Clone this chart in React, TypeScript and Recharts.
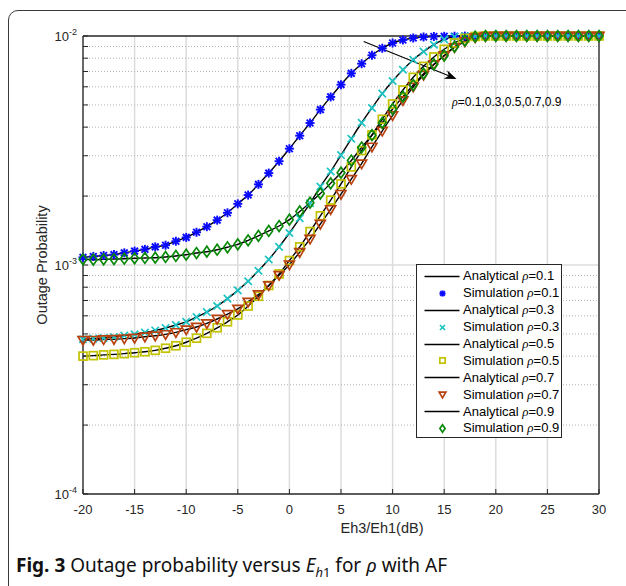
import React from 'react';
import {
  ComposedChart,
  Line,
  XAxis,
  YAxis,
  CartesianGrid,
  ReferenceLine,
  ReferenceDot,
  Legend
} from 'recharts';

// Eh3/Eh1 in dB, one simulation point per dB
const snrDb = [
  -20, -19, -18, -17, -16, -15, -14, -13, -12, -11,
  -10, -9, -8, -7, -6, -5, -4, -3, -2, -1,
  0, 1, 2, 3, 4, 5, 6, 7, 8, 9,
  10, 11, 12, 13, 14, 15, 16, 17, 18, 19,
  20, 21, 22, 23, 24, 25, 26, 27, 28, 29, 30
];

// outage probability, in units of 1e-3
const rho01 = [
  1.08, 1.09, 1.10, 1.11, 1.13, 1.15, 1.17, 1.20, 1.22, 1.27,
  1.32, 1.39, 1.47, 1.57, 1.69, 1.85, 2.02, 2.25, 2.52, 2.84,
  3.22, 3.67, 4.17, 4.77, 5.42, 6.13, 6.87, 7.57, 8.24, 8.84,
  9.32, 9.61, 9.80, 9.90, 9.95, 9.97, 9.98, 9.99, 9.99, 10.0,
  10.0, 10.0, 10.0, 10.0, 10.0, 10.0, 10.0, 10.0, 10.0, 10.0, 10.0
];
const rho03 = [
  0.474, 0.477, 0.480, 0.485, 0.492, 0.498, 0.507, 0.518, 0.531, 0.547,
  0.565, 0.593, 0.623, 0.662, 0.713, 0.775, 0.849, 0.944, 1.057, 1.20,
  1.38, 1.60, 1.86, 2.20, 2.56, 3.02, 3.56, 4.18, 4.85, 5.60,
  6.36, 7.12, 7.88, 8.55, 9.16, 9.67, 9.93, 9.98, 10.0, 10.0,
  10.0, 10.0, 10.0, 10.0, 10.0, 10.0, 10.0, 10.0, 10.0, 10.0, 10.0
];
const rho05 = [
  0.400, 0.402, 0.405, 0.407, 0.410, 0.414, 0.418, 0.424, 0.433, 0.444,
  0.460, 0.479, 0.503, 0.532, 0.565, 0.605, 0.662, 0.730, 0.814, 0.914,
  1.046, 1.20, 1.40, 1.64, 1.92, 2.26, 2.68, 3.16, 3.70, 4.33,
  5.05, 5.81, 6.60, 7.37, 8.10, 8.75, 9.32, 9.77, 9.95, 10.0,
  10.0, 10.0, 10.0, 10.0, 10.0, 10.0, 10.0, 10.0, 10.0, 10.0, 10.0
];
const rho07 = [
  0.470, 0.470, 0.473, 0.474, 0.477, 0.480, 0.486, 0.491, 0.498, 0.508,
  0.522, 0.536, 0.556, 0.581, 0.610, 0.643, 0.690, 0.743, 0.814, 0.903,
  1.003, 1.137, 1.30, 1.51, 1.75, 2.04, 2.37, 2.77, 3.28, 3.85,
  4.50, 5.23, 5.99, 6.75, 7.51, 8.22, 8.91, 9.46, 9.85, 9.97,
  10.0, 10.0, 10.0, 10.0, 10.0, 10.0, 10.0, 10.0, 10.0, 10.0, 10.0
];
const rho09 = [
  1.059, 1.055, 1.059, 1.062, 1.065, 1.070, 1.073, 1.076, 1.084, 1.095,
  1.109, 1.128, 1.143, 1.166, 1.195, 1.231, 1.282, 1.341, 1.408, 1.480,
  1.577, 1.713, 1.871, 2.052, 2.274, 2.530, 2.859, 3.259, 3.689, 4.178,
  4.798, 5.431, 6.109, 6.844, 7.523, 8.204, 8.980, 9.539, 9.93, 10.0,
  10.0, 10.0, 10.0, 10.0, 10.0, 10.0, 10.0, 10.0, 10.0, 10.0, 10.0
];

const xTicks = [-20, -15, -10, -5, 0, 5, 10, 15, 20, 25, 30];
const yTicks = [
  1e-4, 2e-4, 3e-4, 4e-4, 5e-4, 6e-4, 7e-4, 8e-4, 9e-4,
  1e-3, 2e-3, 3e-3, 4e-3, 5e-3, 6e-3, 7e-3, 8e-3, 9e-3, 1e-2
];
const yMinor = yTicks.filter(v => ![1e-4, 1e-3, 1e-2].includes(v));
const yMajorInner = [1e-3];

const SERIES = [
  { key: 'r1', rho: '0.1', values: rho01, color: '#0a0aff', kind: 'star' },
  { key: 'r3', rho: '0.3', values: rho03, color: '#1cc4c4', kind: 'cross' },
  { key: 'r5', rho: '0.5', values: rho05, color: '#c2c200', kind: 'square' },
  { key: 'r7', rho: '0.7', values: rho07, color: '#b8420f', kind: 'tri' },
  { key: 'r9', rho: '0.9', values: rho09, color: '#0a8a0a', kind: 'diamond' }
];

const data = snrDb.map((x, i) => {
  const row: Record<string, number> = { x };
  SERIES.forEach(s => { row[s.key] = s.values[i] * 1e-3; });
  return row;
});

const FONT = '"Liberation Sans", Arial, Helvetica, sans-serif';
const INK = '#262626';

const MarkerShape = ({ kind, cx, cy, color, scale = 1 }: any) => {
  const r = 4.5 * scale;
  if (cx == null || cy == null) return <g />;
  if (kind === 'star') {
    const d = r * 0.75;
    return (
      <g stroke={color} strokeWidth={1.9}>
        <line x1={cx - r} y1={cy} x2={cx + r} y2={cy} />
        <line x1={cx} y1={cy - r} x2={cx} y2={cy + r} />
        <line x1={cx - d} y1={cy - d} x2={cx + d} y2={cy + d} />
        <line x1={cx - d} y1={cy + d} x2={cx + d} y2={cy - d} />
      </g>
    );
  }
  if (kind === 'cross') {
    const d = r * 0.82;
    return (
      <g stroke={color} strokeWidth={1.7}>
        <line x1={cx - d} y1={cy - d} x2={cx + d} y2={cy + d} />
        <line x1={cx - d} y1={cy + d} x2={cx + d} y2={cy - d} />
      </g>
    );
  }
  if (kind === 'square') {
    const h = r * 0.88;
    return <rect x={cx - h} y={cy - h} width={2 * h} height={2 * h} fill="none" stroke={color} strokeWidth={1.7} />;
  }
  if (kind === 'tri') {
    return (
      <path
        d={`M${cx - r * 1.1},${cy - r * 0.8}L${cx + r * 1.1},${cy - r * 0.8}L${cx},${cy + r * 1.1}Z`}
        fill="none"
        stroke={color}
        strokeWidth={1.7}
      />
    );
  }
  return (
    <path
      d={`M${cx},${cy - r * 1.2}L${cx + r * 0.85},${cy}L${cx},${cy + r * 1.2}L${cx - r * 0.85},${cy}Z`}
      fill="none"
      stroke={color}
      strokeWidth={1.7}
    />
  );
};

// y tick: only decades get a 10^n label, minor ticks keep just their tick mark
const YTick = ({ x, y, payload }: any) => {
  const lg = Math.log10(payload.value);
  const exp = Math.round(lg);
  if (Math.abs(lg - exp) > 1e-6) return <g />;
  return (
    <text x={x} y={y + 4.5} textAnchor="end" fill={INK} fontFamily={FONT} fontSize={13}>
      <tspan>10</tspan>
      <tspan dy={-6} fontSize={9}>{exp}</tspan>
    </text>
  );
};

const Arrow = (props: any) => {
  const { x1, y1, x2, y2 } = props;
  const ang = Math.atan2(y2 - y1, x2 - x1);
  const len = 12;
  const half = 4.5;
  const bx = x2 - len * Math.cos(ang);
  const by = y2 - len * Math.sin(ang);
  const nx = x2 - len * 0.7 * Math.cos(ang);
  const ny = y2 - len * 0.7 * Math.sin(ang);
  const px = -Math.sin(ang) * half;
  const py = Math.cos(ang) * half;
  return (
    <g>
      <line x1={x1} y1={y1} x2={nx} y2={ny} stroke="#000" strokeWidth={1.1} />
      <path d={`M${x2},${y2}L${bx + px},${by + py}L${nx},${ny}L${bx - px},${by - py}Z`} fill="#000" />
    </g>
  );
};

const RhoLabel = ({ cx, cy }: any) => (
  <text x={cx} y={cy} dominantBaseline="central" fontFamily={FONT} fontSize={12} fill="#000">
    <tspan fontFamily='"Liberation Serif", serif' fontStyle="italic">ρ</tspan>
    <tspan>=0.1,0.3,0.5,0.7,0.9</tspan>
  </text>
);

const LegendBox = () => (
  <div
    style={{
      width: 146,
      height: 174,
      boxSizing: 'border-box',
      border: `1px solid ${INK}`,
      background: '#fff',
      paddingTop: 3,
      fontFamily: FONT,
      fontSize: 13,
      color: '#000'
    }}
  >
    {SERIES.flatMap(s => [
      { label: 'Analytical', s, line: true },
      { label: 'Simulation', s, line: false }
    ]).map(item => (
      <div
        key={item.label + item.s.key}
        style={{ height: 16.9, display: 'flex', alignItems: 'center', whiteSpace: 'nowrap' }}
      >
        <svg width={46} height={17} style={{ flex: 'none' }}>
          {item.line ? (
            <line x1={7.5} y1={8.5} x2={42.5} y2={8.5} stroke="#000" strokeWidth={1.4} />
          ) : (
            <MarkerShape kind={item.s.kind} cx={25.5} cy={8.5} color={item.s.color} scale={0.68} />
          )}
        </svg>
        <span>
          {item.label}{' '}
          <span style={{ fontFamily: '"Liberation Serif", serif', fontStyle: 'italic' }}>ρ</span>
          ={item.s.rho}
        </span>
      </div>
    ))}
  </div>
);

export default function App() {
  return (
    <div style={{ position: 'fixed', left: 0, top: 0, width: 626, height: 586, overflow: 'hidden', background: '#fff' }}>
      <div
        style={{
          position: 'absolute',
          left: 8,
          top: 10,
          width: 700,
          height: 700,
          border: '1px solid #3a3a3a',
          borderRadius: 10
        }}
      />
      <div style={{ position: 'absolute', left: 0, top: 0 }}>
        <ComposedChart width={626} height={540} data={data} margin={{ top: 35, right: 26, bottom: 0, left: 0 }}>
          <CartesianGrid horizontal={false} vertical stroke="#dcdcdc" strokeWidth={1.5} />
          <CartesianGrid
            vertical={false}
            horizontal
            horizontalValues={yMinor}
            stroke="#b4b4b4"
            strokeDasharray="1 2"
            strokeWidth={1}
          />
          <CartesianGrid vertical={false} horizontal horizontalValues={yMajorInner} stroke="#dcdcdc" strokeWidth={1.5} />

          <XAxis
            dataKey="x"
            type="number"
            domain={[-20, 30]}
            ticks={xTicks}
            interval={0}
            height={46}
            tickSize={-5}
            tickMargin={16}
            axisLine={{ stroke: INK, strokeWidth: 1.3 }}
            tickLine={{ stroke: INK, strokeWidth: 1 }}
            tick={{ fill: INK, fontSize: 13, fontFamily: FONT }}
            label={{
              value: 'Eh3/Eh1(dB)',
              position: 'insideBottom',
              offset: 7,
              dx: 41,
              fill: INK,
              fontSize: 14.5,
              fontFamily: FONT
            }}
          />
          <XAxis
            xAxisId="top"
            orientation="top"
            type="number"
            domain={[-20, 30]}
            ticks={xTicks}
            interval={0}
            height={1}
            tickSize={-5}
            tick={false}
            axisLine={{ stroke: INK, strokeWidth: 1.3 }}
            tickLine={{ stroke: INK, strokeWidth: 1 }}
          />
          <YAxis
            type="number"
            scale="log"
            domain={[1e-4, 1e-2]}
            ticks={yTicks}
            interval={0}
            width={83}
            tickSize={-5}
            tickMargin={11}
            axisLine={{ stroke: INK, strokeWidth: 1.3 }}
            tickLine={{ stroke: INK, strokeWidth: 1 }}
            tick={<YTick />}
            label={{
              value: 'Outage Probability',
              angle: -90,
              position: 'center',
              fill: INK,
              fontSize: 14.5,
              fontFamily: FONT
            }}
          />
          <YAxis
            yAxisId="right"
            orientation="right"
            type="number"
            scale="log"
            domain={[1e-4, 1e-2]}
            ticks={yTicks}
            interval={0}
            width={1}
            tickSize={-5}
            tick={false}
            axisLine={{ stroke: INK, strokeWidth: 1.3 }}
            tickLine={{ stroke: INK, strokeWidth: 1 }}
          />

          {SERIES.flatMap(s => [
            <Line
              key={s.key + '-an'}
              dataKey={s.key}
              type="monotone"
              stroke="#000"
              strokeWidth={1.4}
              dot={false}
              activeDot={false}
              isAnimationActive={false}
            />,
            <Line
              key={s.key + '-sim'}
              dataKey={s.key}
              stroke="none"
              activeDot={false}
              isAnimationActive={false}
              dot={(p: any) => (
                <MarkerShape key={s.key + '-m' + p.index} kind={s.kind} cx={p.cx} cy={p.cy} color={s.color} />
              )}
            />
          ])}

          <ReferenceLine
            segment={[{ x: 7.2, y: 9.46e-3 }, { x: 16.2, y: 6.49e-3 }]}
            shape={<Arrow />}
          />
          <ReferenceDot x={15.75} y={5.15e-3} r={0} shape={<RhoLabel />} />

          <Legend
            layout="vertical"
            align="center"
            verticalAlign="middle"
            wrapperStyle={{ left: 416, top: 264, width: 146, height: 174 }}
            content={() => <LegendBox />}
          />
        </ComposedChart>
      </div>
      <div
        style={{
          position: 'absolute',
          left: 16,
          top: 552,
          fontFamily: '"Noto Sans", "Open Sans", sans-serif',
          fontSize: 19,
          color: '#111',
          whiteSpace: 'nowrap'
        }}
      >
        <b>Fig. 3</b> Outage probability versus <i>E</i>
        <sub style={{ fontSize: 13 }}>
          <i>h</i>1
        </sub>{' '}
        for <i>ρ</i> with AF
      </div>
    </div>
  );
}
